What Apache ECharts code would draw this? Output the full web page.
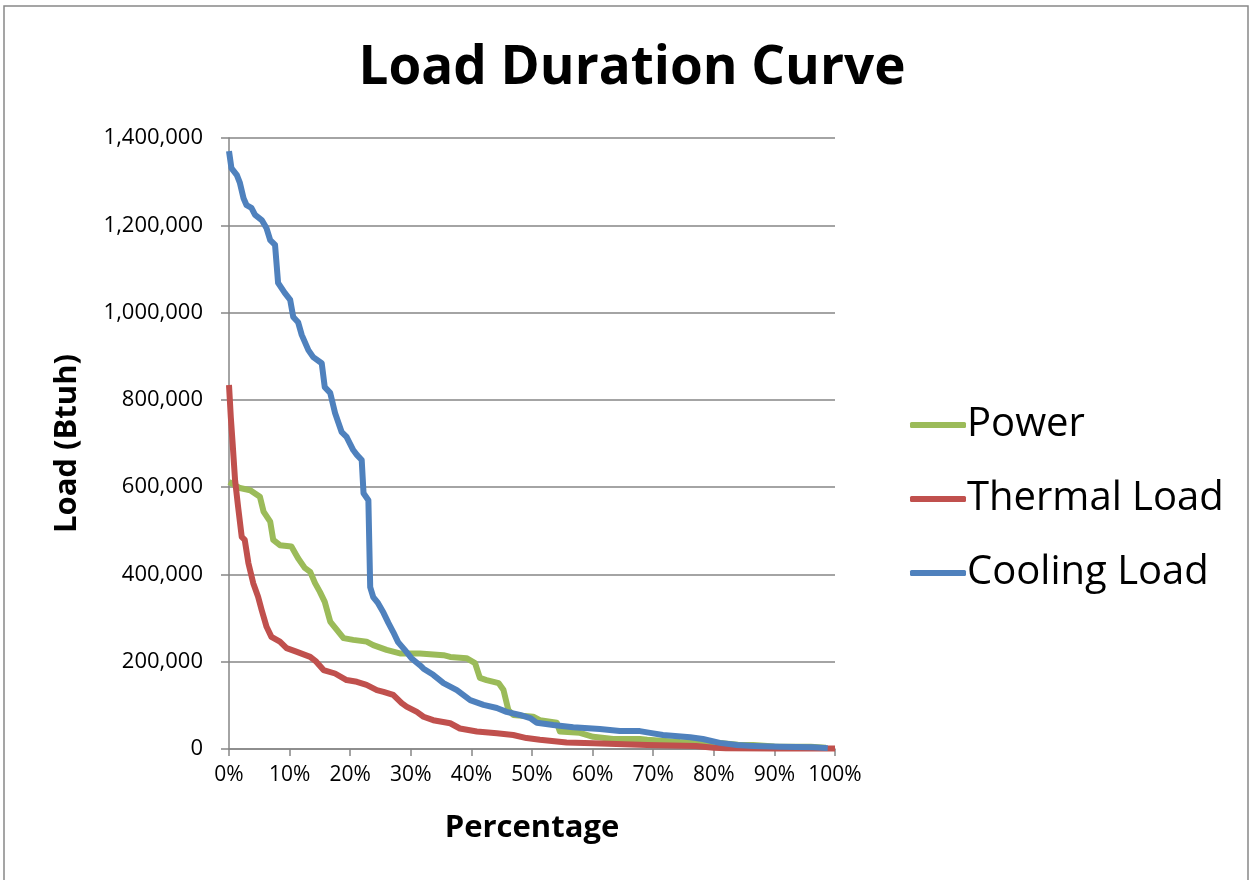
<!DOCTYPE html>
<html>
<head>
<meta charset="utf-8">
<script src="https://cdn.jsdelivr.net/npm/echarts@6/dist/echarts.min.js"></script>
<style>
html,body{margin:0;padding:0;background:#fff;}
#chart{width:1252px;height:880px;}
</style>
</head>
<body>
<div id="chart"></div>
<script>
// ---- Data (x = percentage of time, y = load in Btuh) ----
const seriesNames = ['Power', 'Thermal Load', 'Cooling Load'];
const yTicks = [0, 200000, 400000, 600000, 800000, 1000000, 1200000, 1400000];
const xTicks = [0, 10, 20, 30, 40, 50, 60, 70, 80, 90, 100];

const powerX = [0, 1.8, 3.5, 5.1, 5.7, 6.8, 7.3, 8.4, 10.3, 11.4, 12.5, 13.4, 14.2, 15.0, 15.8, 16.7, 17.8, 18.9, 20.5, 22.7, 23.8, 26.0, 28.2, 31.5, 35.4, 36.5, 39.2, 40.6, 41.4, 42.5, 44.5, 45.3, 46.1, 46.9, 50.2, 51.3, 54.1, 54.6, 57.9, 60.1, 63.4, 67.8, 69.0, 74.4, 78.2, 81.0, 84.0, 86.5, 90.0, 96.0, 98.5];
const powerY = [612000, 598000, 593000, 578000, 544000, 521000, 479000, 467000, 464000, 437000, 415000, 406000, 380000, 360000, 337000, 292000, 273000, 254000, 250000, 246000, 238000, 227000, 219000, 219000, 215000, 211000, 208000, 197000, 163000, 158000, 151000, 135000, 89000, 78000, 74000, 66000, 60000, 40000, 37000, 28000, 23000, 23000, 21000, 16000, 14000, 14000, 10000, 9000, 6000, 5000, 3000];

const thermalX = [0, 0.3, 0.6, 1.0, 1.5, 2.1, 2.6, 3.2, 4.0, 4.8, 5.4, 6.2, 7.0, 8.4, 9.5, 11.1, 13.4, 14.4, 15.6, 17.5, 19.4, 21.1, 22.7, 24.4, 25.5, 27.1, 28.5, 29.3, 31.0, 32.1, 33.7, 36.5, 38.1, 40.9, 44.2, 46.9, 49.1, 51.3, 55.7, 60.1, 69.0, 77.0, 80.0, 82.0, 90.0, 100];
const thermalY = [834000, 760000, 700000, 616000, 555000, 486000, 479000, 426000, 380000, 349000, 318000, 280000, 257000, 246000, 231000, 223000, 211000, 200000, 181000, 173000, 158000, 154000, 147000, 135000, 131000, 124000, 105000, 97000, 85000, 74000, 66000, 59000, 47000, 40000, 36000, 32000, 25000, 21000, 15000, 13000, 9000, 7000, 3000, 1500, 1000, 1000];

const coolingX = [0, 0.4, 1.3, 1.8, 2.4, 2.9, 3.7, 4.3, 5.4, 6.2, 6.8, 7.6, 8.1, 9.2, 10.1, 10.6, 11.4, 12.0, 13.1, 13.9, 15.3, 15.8, 16.7, 17.5, 18.6, 19.4, 20.5, 21.1, 21.9, 22.2, 23.0, 23.3, 23.8, 24.6, 25.5, 26.3, 27.1, 27.9, 29.0, 30.1, 31.5, 32.1, 33.7, 35.4, 37.6, 39.8, 42.0, 44.2, 45.8, 48.0, 49.7, 50.8, 53.5, 56.8, 61.2, 64.5, 67.8, 69.5, 71.6, 76.1, 78.2, 81.0, 83.8, 86.5, 90.9, 96.4, 98.8];
const coolingY = [1370000, 1331000, 1315000, 1297000, 1262000, 1246000, 1240000, 1224000, 1212000, 1193000, 1166000, 1155000, 1068000, 1045000, 1029000, 990000, 978000, 949000, 914000, 898000, 884000, 829000, 816000, 770000, 726000, 715000, 685000, 674000, 662000, 586000, 570000, 371000, 348000, 334000, 312000, 289000, 268000, 245000, 227000, 208000, 192000, 184000, 170000, 151000, 135000, 112000, 101000, 94000, 85000, 78000, 71000, 60000, 55000, 50000, 46000, 41000, 41000, 37000, 32000, 27000, 23000, 14000, 9000, 7000, 5000, 4000, 2000];

const colors = ['#9BBB59', '#C0504D', '#4F81BD'];
const pairs = (xs, ys) => xs.map((x, i) => [x, ys[i]]);
const allX = [powerX, thermalX, coolingX];
const allY = [powerY, thermalY, coolingY];

const FONT = 'Open Sans';
const chart = echarts.init(document.getElementById('chart'));
chart.setOption({
  animation: false,
  backgroundColor: '#fff',
  title: {
    text: 'Load Duration Curve',
    left: 627, top: 37, textAlign: 'center',
    textStyle: { fontFamily: FONT, fontWeight: 'bold', fontSize: 53, color: '#000' }
  },
  graphic: [{
    type: 'rect', shape: { x: 4, y: 6, width: 1244, height: 880 },
    style: { fill: 'none', stroke: '#888', lineWidth: 1.5 }, silent: true
  }],
  legend: {
    orient: 'vertical', left: 905, top: 400,
    itemWidth: 56, itemHeight: 6, itemGap: 34, icon: 'roundRect',
    textStyle: { fontFamily: FONT, fontSize: 40, color: '#000', padding: [0, 0, 0, -4] },
    data: seriesNames
  },
  grid: { left: 229, right: 417, top: 138, bottom: 131, containLabel: false },
  xAxis: {
    type: 'value', min: 0, max: 100, interval: 10,
    name: 'Percentage', nameLocation: 'middle', nameGap: 64,
    nameTextStyle: { fontFamily: FONT, fontWeight: 'bold', fontSize: 31, color: '#000' },
    axisLine: { show: true, lineStyle: { color: '#868686', width: 1.5 } },
    axisTick: { show: true, length: 7, lineStyle: { color: '#868686', width: 1.5 } },
    axisLabel: { fontFamily: FONT, fontSize: 21, color: '#000', margin: 16, formatter: v => v + '%' },
    splitLine: { show: false }
  },
  yAxis: {
    type: 'value', min: 0, max: 1400000, interval: 200000,
    name: 'Load (Btuh)', nameLocation: 'middle', nameGap: 146, nameRotate: 90,
    nameTextStyle: { fontFamily: FONT, fontWeight: 'bold', fontSize: 31, color: '#000' },
    axisLine: { show: true, lineStyle: { color: '#868686', width: 1.5 } },
    axisTick: { show: true, length: 8, lineStyle: { color: '#868686', width: 1.5 } },
    axisLabel: { fontFamily: FONT, fontSize: 22, color: '#000', margin: 26,
      formatter: v => v.toLocaleString('en-US') },
    splitLine: { show: true, lineStyle: { color: '#868686', width: 1.5 } }
  },
  series: seriesNames.map((n, i) => ({
    name: n, type: 'line', showSymbol: false, symbol: 'none',
    data: pairs(allX[i], allY[i]),
    lineStyle: { color: colors[i], width: 6, join: 'round' },
    itemStyle: { color: colors[i] },
    z: 2 + (i === 2 ? 1 : 0)
  }))
});
</script>
</body>
</html>
